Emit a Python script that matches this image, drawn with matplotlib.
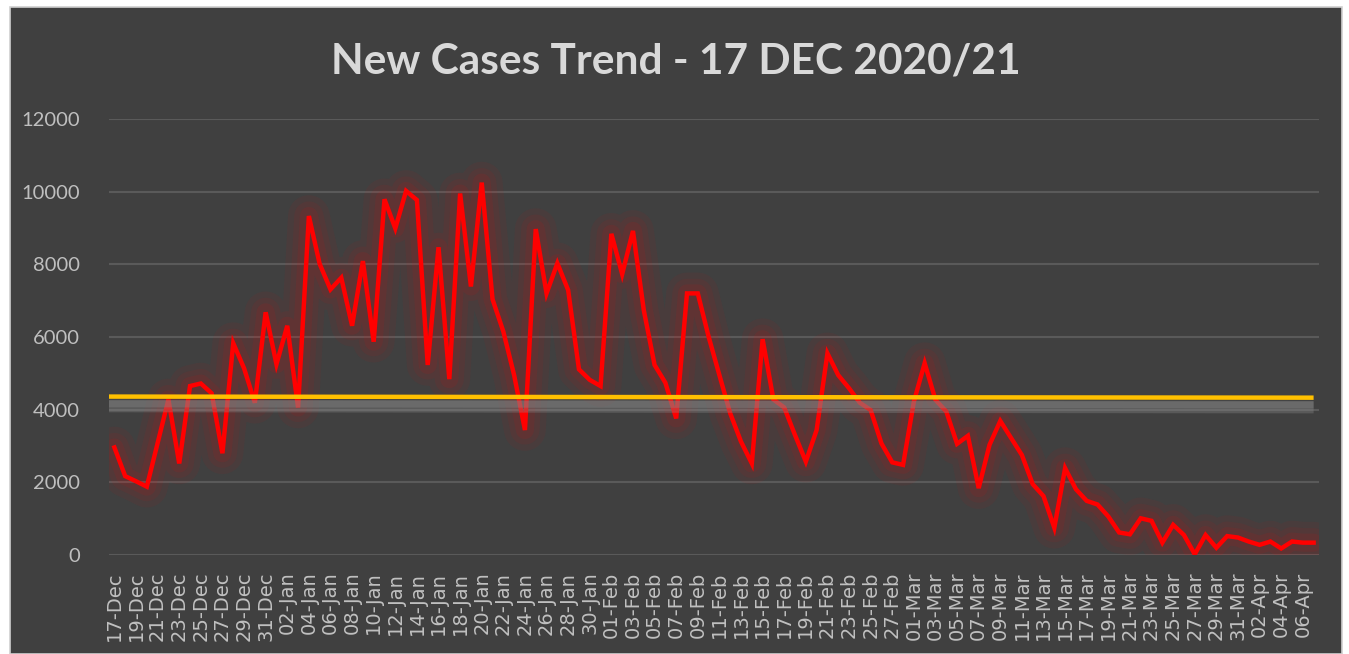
import matplotlib
matplotlib.use("Agg")
import matplotlib.pyplot as plt
from matplotlib.patches import Rectangle
import pandas as pd

# ---- data ----
dates = pd.date_range("2020-12-17", "2021-04-07", freq="D")
new_cases = [
    2960, 2170, 2030, 1880, 3080, 4280, 2520, 4650, 4720, 4450,
    2800, 5830, 5140, 4190, 6680, 5250, 6310, 4060, 9330, 8010,
    7310, 7630, 6310, 8090, 5870, 9790, 8990, 10020, 9770, 5230,
    8470, 4840, 9950, 7390, 10250, 7040, 6150, 4950, 3440, 8970,
    7200, 8030, 7290, 5110, 4820, 4650, 8840, 7730, 8920, 6740,
    5230, 4740, 3760, 7200, 7200, 6010, 4950, 3900, 3120, 2520,
    5940, 4280, 4060, 3300, 2570, 3440, 5550, 4950, 4590, 4190,
    3990, 3070, 2550, 2480, 4220, 5280, 4270, 3950, 3060, 3280,
    1840, 3030, 3690, 3220, 2750, 1950, 1620, 750, 2390, 1810,
    1490, 1390, 1060, 620, 570, 1010, 940, 340, 830, 550,
    20, 550, 200, 520, 480, 370, 280, 370, 180, 370,
    340, 340,
]
average_level = [4360, 4330]  # start / end of the yellow reference line
tick_labels = [d.strftime("%d-%b") for d in dates]
y_ticks = [0, 2000, 4000, 6000, 8000, 10000, 12000]
title = "New Cases Trend - 17 DEC 2020/21"

# ---- figure ----
W, H = 1349, 654
fig = plt.figure(figsize=(W / 100, H / 100), dpi=100)
fig.patch.set_facecolor("white")
bg = Rectangle((10 / W, 0), (1342 - 10) / W, (H - 7) / H, transform=fig.transFigure,
               facecolor="#404040", edgecolor="#d0d0d0", linewidth=1.2, zorder=-10)
fig.patches.append(bg)

ax = fig.add_axes([109 / W, (H - 555) / H, (1319 - 109) / W, (555 - 119) / H])
ax.set_facecolor("none")
for s in ax.spines.values():
    s.set_visible(False)

x = list(range(len(new_cases)))

# gridlines
ax.set_ylim(0, 12000)
ax.set_xlim(-0.5, len(new_cases) - 0.5)
ax.set_yticks(y_ticks)
ax.yaxis.grid(True, color="#5a5a5a", linewidth=1.5)
ax.set_axisbelow(True)

# red line glow
for lw, a in [(30, 0.05), (21, 0.06), (13, 0.08)]:
    ax.plot(x, new_cases, color="#ff0000", linewidth=lw, alpha=a,
            solid_joinstyle="round", solid_capstyle="round", zorder=2)
ax.plot(x, new_cases, color="#ff0000", linewidth=3.2, solid_joinstyle="miter", zorder=3)

# yellow average line with shadow
xa = [-0.5, len(new_cases) - 1]
ax.plot(xa, [v - 260 for v in average_level], color="#8a8a8a", linewidth=9, alpha=0.35,
        solid_capstyle="butt", zorder=4)
ax.plot(xa, [v - 200 for v in average_level], color="#8a8a8a", linewidth=5, alpha=0.35,
        solid_capstyle="butt", zorder=4)
ax.plot(xa, average_level, color="#ffc000", linewidth=3.2, solid_capstyle="butt", zorder=5)

# ticks
ax.set_xticks(x[::2])
ax.set_xticklabels(tick_labels[::2], rotation=90, family="DejaVu Sans",
                   fontsize=14, color="#c0c0c0")
ax.set_yticklabels([str(v) for v in y_ticks], family="Lato", fontsize=14.5, color="#bfbfbf")
ax.tick_params(axis="both", length=0)
ax.tick_params(axis="x", pad=12)
ax.tick_params(axis="y", pad=21)

fig.text(676 / W, 1 - 61 / H, title, ha="center", va="center", family="Lato",
         fontweight="bold", fontsize=30.5, color="#d9d9d9")

fig.savefig("out.png", dpi=100, facecolor=fig.get_facecolor())
